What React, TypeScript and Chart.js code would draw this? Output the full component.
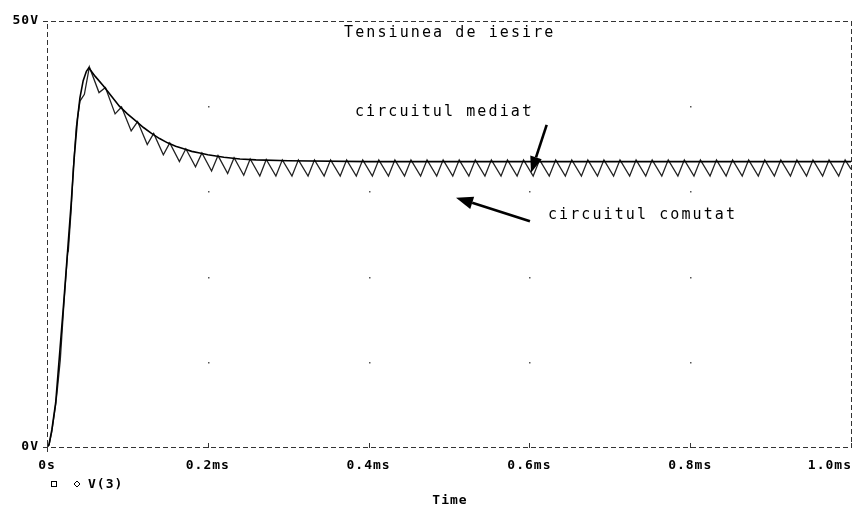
import React, { useEffect, useRef } from "react";
import { Chart, registerables } from "chart.js";

Chart.register(...registerables);

// ---- data (time in ms, voltage in V) ----
const mediatTime = [
  0, 0.0025, 0.006, 0.0108, 0.0161, 0.021, 0.0257, 0.03, 0.0339, 0.038, 0.041, 0.045, 0.049, 0.052,
  0.06, 0.07, 0.08, 0.09, 0.1, 0.11, 0.12, 0.13, 0.14, 0.15, 0.16, 0.17, 0.18, 0.19, 0.2, 0.22,
  0.24, 0.26, 0.3, 0.4, 0.6, 0.8, 1.0,
];
const mediatVolt = [
  0, 0.3, 2.0, 5.2, 11.4, 17.2, 23.1, 28.5, 34.0, 38.6, 41.0, 43.0, 44.1, 44.5,
  43.5, 42.4, 41.2, 40.0, 39.1, 38.3, 37.5, 36.8, 36.2, 35.7, 35.3, 35.0, 34.7, 34.5, 34.3, 34.0,
  33.8, 33.7, 33.6, 33.5, 33.5, 33.5, 33.5,
];

const comutatTime = [
  0, 0.0025, 0.006, 0.0108, 0.0127, 0.0165, 0.021, 0.0257, 0.0265, 0.03, 0.0327, 0.0365, 0.041, 0.0465, 0.0527,
  0.0647, 0.0727, 0.0847, 0.0927, 0.1047, 0.1127, 0.1247, 0.1327, 0.1447, 0.1527,
  0.1647, 0.1727, 0.1847, 0.1927, 0.2047, 0.2127, 0.2247, 0.2327, 0.2447, 0.2527,
  0.2647, 0.2727, 0.2847, 0.2927, 0.3047, 0.3127, 0.3247, 0.3327, 0.3447, 0.3527,
  0.3647, 0.3727, 0.3847, 0.3927, 0.4047, 0.4127, 0.4247, 0.4327, 0.4447, 0.4527,
  0.4647, 0.4727, 0.4847, 0.4927, 0.5047, 0.5127, 0.5247, 0.5327, 0.5447, 0.5527,
  0.5647, 0.5727, 0.5847, 0.5927, 0.6047, 0.6127, 0.6247, 0.6327, 0.6447, 0.6527,
  0.6647, 0.6727, 0.6847, 0.6927, 0.7047, 0.7127, 0.7247, 0.7327, 0.7447, 0.7527,
  0.7647, 0.7727, 0.7847, 0.7927, 0.8047, 0.8127, 0.8247, 0.8327, 0.8447, 0.8527,
  0.8647, 0.8727, 0.8847, 0.8927, 0.9047, 0.9127, 0.9247, 0.9327, 0.9447, 0.9527,
  0.9647, 0.9727, 0.9847, 0.9927, 1.0,
];
const comutatVolt = [
  0, 0.2, 1.8, 5.0, 6.6, 10.2, 16.8, 22.8, 23.0, 27.8, 32.6, 37.6, 40.6, 41.4, 44.6,
  41.6, 42.2, 39.1, 39.9, 37.1, 38.2, 35.5, 36.8, 34.3, 35.7,
  33.5, 35.0, 32.9, 34.5, 32.4, 34.2, 32.1, 33.95, 31.9, 33.8,
  31.8, 33.75, 31.8, 33.7, 31.8, 33.7, 31.8, 33.7, 31.8, 33.7,
  31.8, 33.7, 31.8, 33.7, 31.8, 33.7, 31.8, 33.7, 31.8, 33.7,
  31.8, 33.7, 31.8, 33.7, 31.8, 33.7, 31.8, 33.7, 31.8, 33.7,
  31.8, 33.7, 31.8, 33.7, 31.8, 33.7, 31.8, 33.7, 31.8, 33.7,
  31.8, 33.7, 31.8, 33.7, 31.8, 33.7, 31.8, 33.7, 31.8, 33.7,
  31.8, 33.7, 31.8, 33.7, 31.8, 33.7, 31.8, 33.7, 31.8, 33.7,
  31.8, 33.7, 31.8, 33.7, 31.8, 33.7, 31.8, 33.7, 31.8, 33.7,
  31.8, 33.7, 31.8, 33.7, 32.6,
];

const xTickLabels = ["0s", "0.2ms", "0.4ms", "0.6ms", "0.8ms", "1.0ms"];
const yTickLabels: Record<string, string> = { "0": "0V", "50": "50V" };
const titleText = "Tensiunea de iesire";
const labelMediat = "circuitul mediat";
const labelComutat = "circuitul comutat";
const legendLabel = "V(3)";
const xAxisTitle = "Time";

const BOLD = 'bold 13px "DejaVu Sans Mono"';
const THIN = '15px "DejaVu Sans Mono"';

function arrow(ctx: CanvasRenderingContext2D, x1: number, y1: number, x2: number, y2: number, head: number, halfW: number) {
  const ang = Math.atan2(y2 - y1, x2 - x1);
  const bx = x2 - head * Math.cos(ang);
  const by = y2 - head * Math.sin(ang);
  ctx.beginPath();
  ctx.moveTo(x1, y1);
  ctx.lineTo(bx, by);
  ctx.stroke();
  ctx.beginPath();
  ctx.moveTo(x2, y2);
  ctx.lineTo(bx + halfW * Math.sin(ang), by - halfW * Math.cos(ang));
  ctx.lineTo(bx - halfW * Math.sin(ang), by + halfW * Math.cos(ang));
  ctx.closePath();
  ctx.fill();
}

const overlay = {
  id: "overlay",
  beforeDraw(chart: any) {
    const ctx = chart.ctx as CanvasRenderingContext2D;
    ctx.save();
    ctx.fillStyle = "#fff";
    ctx.fillRect(0, 0, chart.width, chart.height);
    ctx.restore();
    (ctx as any).letterSpacing = "1px";
  },
  afterDraw(chart: any) {
    const ctx = chart.ctx as CanvasRenderingContext2D;
    const { left, right, top, bottom } = chart.chartArea;
    const xs = chart.scales.x;
    const ys = chart.scales.y;
    ctx.save();
    // dashed frame
    ctx.strokeStyle = "#333";
    ctx.lineWidth = 1;
    ctx.setLineDash([5, 3]);
    ctx.beginPath();
    ctx.moveTo(left - 4, Math.round(top) + 0.5);
    ctx.lineTo(right, Math.round(top) + 0.5);
    ctx.moveTo(left - 4, Math.round(bottom) + 0.5);
    ctx.lineTo(right, Math.round(bottom) + 0.5);
    ctx.moveTo(Math.round(left) + 0.5, top + 3);
    ctx.lineTo(Math.round(left) + 0.5, bottom);
    ctx.moveTo(Math.round(right) + 0.5, top);
    ctx.lineTo(Math.round(right) + 0.5, bottom);
    ctx.stroke();
    ctx.setLineDash([]);
    // tick marks
    ctx.beginPath();
    xs.ticks.forEach((t: any) => {
      const px = Math.round(xs.getPixelForValue(t.value)) + 0.5;
      ctx.moveTo(px, Math.round(bottom) - 4);
      ctx.lineTo(px, Math.round(bottom) + 1);
    });
    ctx.moveTo(Math.round(left) + 0.5, Math.round(bottom));
    ctx.lineTo(Math.round(left) + 0.5, Math.round(bottom) + 5);
    ctx.moveTo(left - 4, Math.round(bottom) + 0.5);
    ctx.lineTo(left + 1, Math.round(bottom) + 0.5);
    ctx.stroke();
    // grid dots
    ctx.fillStyle = "#555";
    xs.ticks.forEach((tx: any) => {
      ys.ticks.forEach((ty: any) => {
        if (tx.value <= 0 || tx.value >= 1 || ty.value <= 0 || ty.value >= 50) return;
        const px = Math.round(xs.getPixelForValue(tx.value));
        const py = Math.round(ys.getPixelForValue(ty.value));
        ctx.fillRect(px, py, 1.5, 1.5);
      });
    });
    // x tick labels
    ctx.fillStyle = "#000";
    ctx.font = BOLD;
    ctx.textBaseline = "middle";
    ctx.textAlign = "left";
    xs.ticks.forEach((t: any, i: number) => {
      const label = xTickLabels[i] ?? "";
      const px = xs.getPixelForValue(t.value);
      const w = ctx.measureText(label).width;
      let lx = px - w / 2;
      if (lx + w > chart.width - 2) lx = chart.width - 2 - w;
      ctx.fillText(label, lx, bottom + 19);
    });
    // legend and axis title
    ctx.strokeStyle = "#000";
    ctx.strokeRect(51.5, 481.5, 5, 5);
    ctx.beginPath();
    ctx.moveTo(77, 481);
    ctx.lineTo(80, 484);
    ctx.lineTo(77, 487);
    ctx.lineTo(74, 484);
    ctx.closePath();
    ctx.stroke();
    ctx.fillText(legendLabel, 88, 485);
    ctx.textAlign = "center";
    ctx.fillText(xAxisTitle, (left + right) / 2 + 1, 501);
    // title and annotations
    ctx.font = THIN;
    (ctx as any).letterSpacing = "2.1px";
    ctx.textAlign = "left";
    ctx.fillText(titleText, 344, ys.getPixelForValue(48.6));
    ctx.fillText(labelMediat, xs.getPixelForValue(0.383), ys.getPixelForValue(39.3));
    ctx.fillText(labelComutat, xs.getPixelForValue(0.623), ys.getPixelForValue(27.2));
    // arrows
    ctx.strokeStyle = "#000";
    ctx.fillStyle = "#000";
    ctx.lineWidth = 2.6;
    arrow(ctx, xs.getPixelForValue(0.6215), ys.getPixelForValue(37.8), xs.getPixelForValue(0.602), ys.getPixelForValue(32.2), 16, 6);
    arrow(ctx, xs.getPixelForValue(0.6007), ys.getPixelForValue(26.5), xs.getPixelForValue(0.5087), ys.getPixelForValue(29.26), 17, 6.5);
    ctx.restore();
    (ctx as any).letterSpacing = "0px";
  },
};

export default function App() {
  const ref = useRef<HTMLCanvasElement | null>(null);
  useEffect(() => {
    if (!ref.current) return;
    const chart = new Chart(ref.current, {
      type: "line",
      data: {
        datasets: [
          {
            label: "circuitul mediat",
            data: mediatTime.map((t, i) => ({ x: t, y: mediatVolt[i] })),
            borderColor: "#000",
            borderWidth: 1.6,
            pointRadius: 0,
            tension: 0,
            fill: false,
          },
          {
            label: "circuitul comutat",
            data: comutatTime.map((t, i) => ({ x: t, y: comutatVolt[i] })),
            borderColor: "#222",
            borderWidth: 1.3,
            pointRadius: 0,
            tension: 0,
            fill: false,
          },
        ],
      },
      options: {
        animation: false,
        responsive: false,
        devicePixelRatio: 1,
        layout: { padding: { top: 21, right: 3, left: 0, bottom: 0 } },
        plugins: { legend: { display: false }, tooltip: { enabled: false }, title: { display: false } },
        scales: {
          x: {
            type: "linear",
            min: 0,
            max: 1,
            ticks: { stepSize: 0.2, display: false },
            grid: { display: false },
            border: { display: false },
            afterFit: (s: any) => {
              s.height = 59;
              s.paddingLeft = 0;
              s.paddingRight = 0;
            },
          },
          y: {
            type: "linear",
            min: 0,
            max: 50,
            ticks: {
              stepSize: 10,
              padding: 8,
              color: "#000",
              font: { family: '"DejaVu Sans Mono"', size: 13, weight: "bold" },
              callback: (v: any) => yTickLabels[String(v)] ?? "",
            },
            grid: { display: false, drawTicks: false },
            border: { display: false },
            afterFit: (s: any) => {
              s.width = 47;
              s.paddingTop = 0;
              s.paddingBottom = 0;
            },
          },
        },
      },
      plugins: [overlay],
    } as any);
    return () => chart.destroy();
  }, []);
  return (
    <div style={{ position: "fixed", left: 0, top: 0, width: 854, height: 506, background: "#fff" }}>
      <canvas ref={ref} width={854} height={506} style={{ width: 854, height: 506, display: "block" }} />
    </div>
  );
}
